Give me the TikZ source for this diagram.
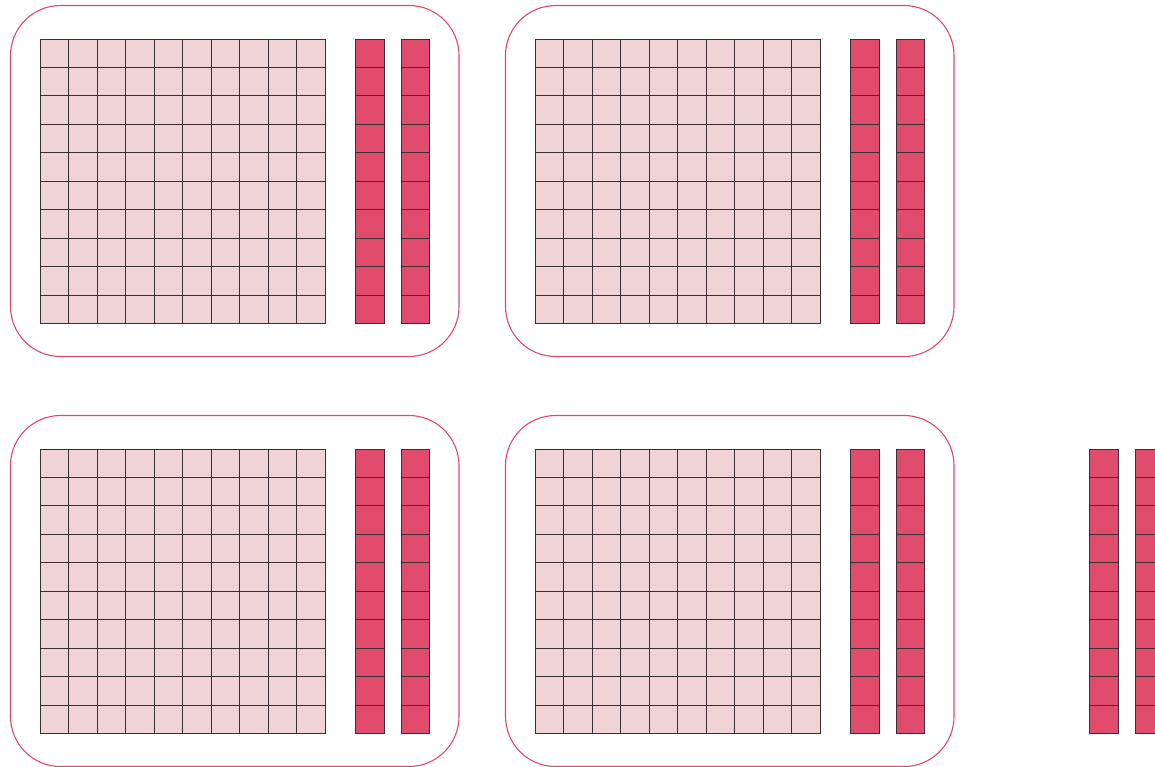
\documentclass[tikz,border=0pt]{standalone}
\definecolor{cellpink}{HTML}{F0D3D5}
\definecolor{barred}{HTML}{E14C6D}
\definecolor{frame}{HTML}{E0486B}
\definecolor{gridline}{HTML}{3A3034}
\tikzset{
  panel/.style={draw=frame, line width=1.1pt, rounded corners=50pt},
  cell/.style={draw=gridline, fill=cellpink, line width=0.9pt},
  rod/.style={draw=gridline, fill=barred, line width=0.9pt},
}
\newcommand{\hundred}[2]{%
  \foreach \i in {0,...,9}{\foreach \j in {0,...,9}{%
    \draw[cell] ({#1+\i*28.5},{#2+\j*28.45}) rectangle ++(28.5,28.45);}}}
\newcommand{\tenrod}[2]{%
  \foreach \j in {0,...,9}{%
    \draw[rod] (#1,{#2+\j*28.45}) rectangle ++(28.8,28.45);}}
\begin{document}
\begin{tikzpicture}[x=1pt,y=-1pt]
\useasboundingbox (0,0) rectangle (1155,766);
% panels
\foreach \ox/\oy [count=\k] in {0/0,495/0,0/410,495/410}{
  \draw[panel] (\ox+10.5,\oy+5.5) rectangle (\ox+459,\oy+356.5);
  \hundred{\ox+40}{\oy+39}
  \tenrod{\ox+355.5}{\oy+39}
  \tenrod{\ox+401}{\oy+39}
}
\tenrod{1089.5}{449}
\tenrod{1135}{449}
\end{tikzpicture}
\end{document}
